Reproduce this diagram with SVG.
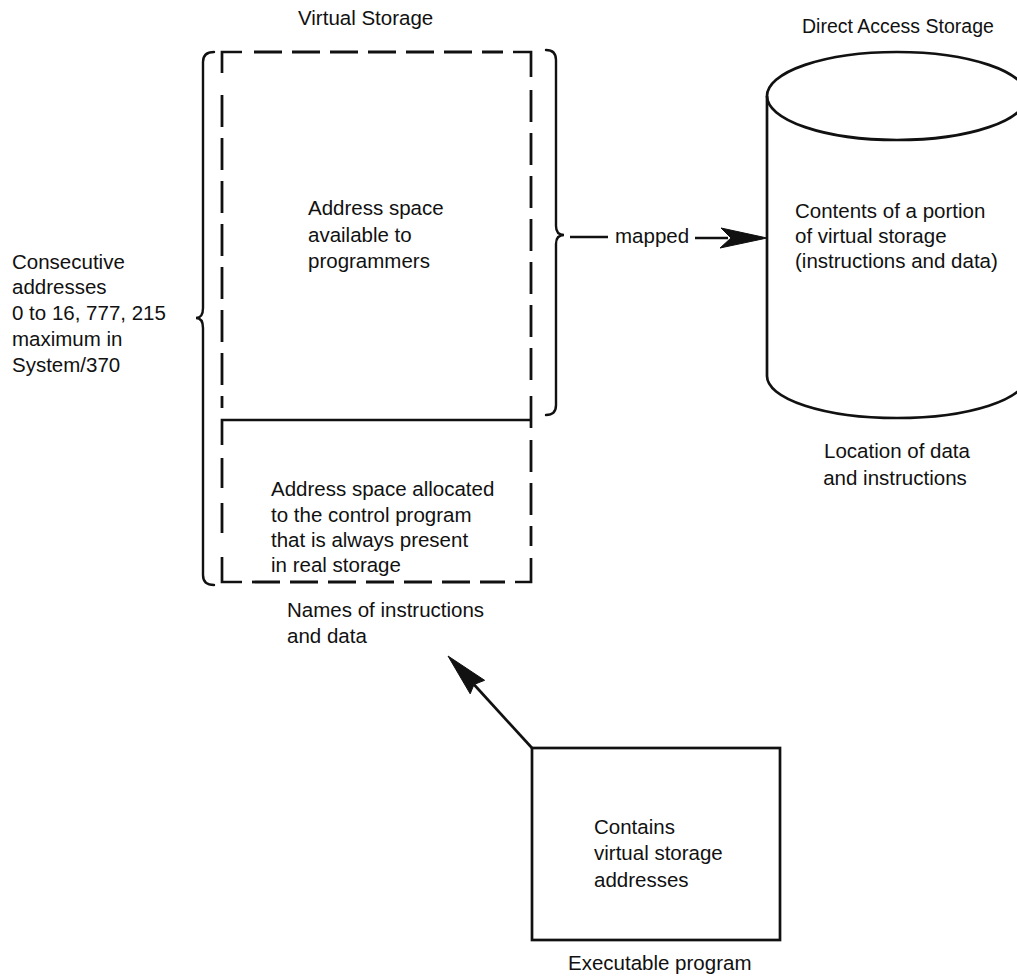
<svg xmlns="http://www.w3.org/2000/svg" width="1017" height="979" viewBox="0 0 1017 979">
  <style>
    .t { font-family: "Liberation Sans", Arial, sans-serif; font-size: 20.5px; fill: #111; }
    .ln { fill: none; stroke: #111; stroke-width: 2.7; stroke-linecap: butt; stroke-linejoin: miter; }
    .dh { fill: none; stroke: #111; stroke-width: 2.8; stroke-dasharray: 28 10; }
    .dv { fill: none; stroke: #111; stroke-width: 2.8; stroke-dasharray: 32 11; }
    .dl { fill: none; stroke: #111; stroke-width: 2.8; stroke-dasharray: 30 15; }
    .br { fill: none; stroke: #111; stroke-width: 2.4; stroke-linecap: round; }
    .ah { fill: #111; stroke: #111; stroke-width: 1; stroke-linejoin: miter; }
  </style>
  <rect width="1017" height="979" fill="#fff"/>

  <!-- Virtual storage: dashed address space, split by the control program boundary -->
  <g id="virtual-storage">
    <text class="t" x="298" y="25">Virtual Storage</text>
    <!-- corners -->
    <path class="ln" d="M222,73 V52 H242"/>
    <path class="ln" d="M513,52 H531 V77"/>
    <path class="ln" d="M222,557 V582 H242"/>
    <path class="ln" d="M515,582 H531 V558"/>
    <!-- top and bottom edges -->
    <path class="dh" d="M254,52 H503"/>
    <path class="dh" d="M252,582 H505"/>
    <!-- left edge -->
    <path class="dv" d="M222,95 V408"/>
    <path class="dl" d="M222,458 V533"/>
    <!-- right edge -->
    <path class="dv" d="M531,90 V382"/>
    <path class="dv" d="M531,440 V546"/>
    <!-- solid divider with short joints -->
    <path class="ln" d="M531,396 V428"/>
    <path class="ln" d="M531,420 H222 V445"/>
    <text class="t" x="308" y="215">Address space</text>
    <text class="t" x="308" y="242">available to</text>
    <text class="t" x="308" y="268">programmers</text>
    <text class="t" x="271" y="496">Address space allocated</text>
    <text class="t" x="271" y="521.5">to the control program</text>
    <text class="t" x="271" y="547">that is always present</text>
    <text class="t" x="271" y="572">in real storage</text>
    <text class="t" x="287" y="617">Names of instructions</text>
    <text class="t" x="287" y="643">and data</text>
  </g>

  <!-- Range of consecutive addresses -->
  <g id="address-range">
    <path class="br" d="M214,52 Q203,52 203,62 V308 Q203,318 196,318 Q203,318 203,328 V575 Q203,585 214,585"/>
    <text class="t" x="12" y="269">Consecutive</text>
    <text class="t" x="12" y="294">addresses</text>
    <text class="t" x="12" y="320">0 to 16, 777, 215</text>
    <text class="t" x="12" y="346">maximum in</text>
    <text class="t" x="12" y="372">System/370</text>
  </g>

  <!-- Direct access storage device -->
  <g id="direct-access-storage">
    <text class="t" x="802" y="33" style="font-size:19.5px">Direct Access Storage</text>
    <ellipse class="ln" cx="897" cy="96" rx="130" ry="44"/>
    <path class="ln" d="M767,96 V376 A130,42 0 0 0 1027,376 V96"/>
    <text class="t" x="795" y="218">Contents of a portion</text>
    <text class="t" x="795" y="243">of virtual storage</text>
    <text class="t" x="795" y="268">(instructions and data)</text>
    <text class="t" x="897" y="458" text-anchor="middle">Location of data</text>
    <text class="t" x="895" y="485" text-anchor="middle">and instructions</text>
  </g>

  <!-- Executable program -->
  <g id="executable-program">
    <rect class="ln" x="532" y="748" width="248" height="192"/>
    <text class="t" x="594" y="834">Contains</text>
    <text class="t" x="594" y="860">virtual storage</text>
    <text class="t" x="594" y="887">addresses</text>
    <text class="t" x="568" y="970">Executable program</text>
  </g>

  <!-- Connectors -->
  <g id="connectors">
    <!-- upper address space mapped onto direct access storage -->
    <g id="mapped">
      <path class="br" d="M546,50 Q556,50 556,60 V226 Q556,235 564,235 Q556,235 556,244 V405 Q556,415 546,415"/>
      <path class="ln" d="M570,237 H608"/>
      <text class="t" x="615" y="243">mapped</text>
      <path class="ln" d="M695,238 H728"/>
      <polygon class="ah" points="767,238 721,228 731,238 720,248"/>
    </g>
    <!-- program addresses refer to virtual storage names -->
    <g id="refers">
      <path class="ln" d="M532,748 L474,684.5"/>
      <polygon class="ah" points="448,656 484.6,680.3 474,684.5 470.2,693.8"/>
    </g>
  </g>
</svg>
